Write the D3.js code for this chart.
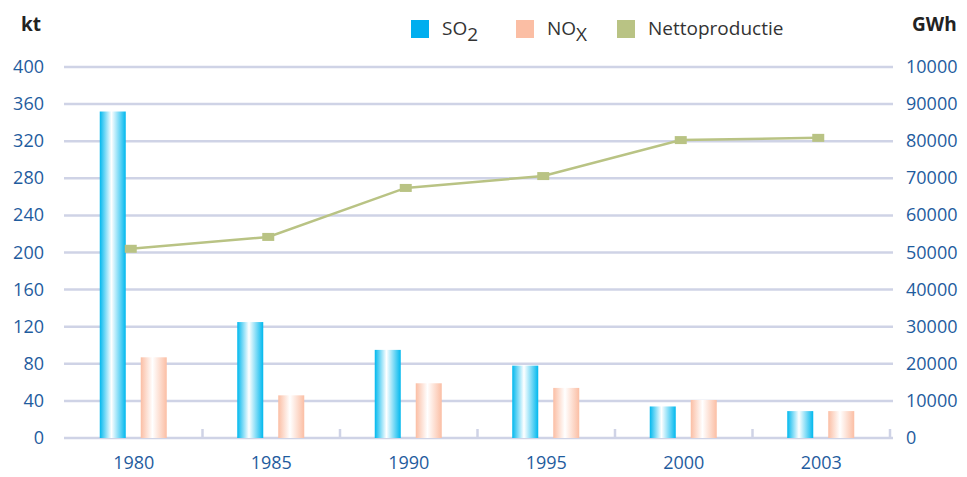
<!DOCTYPE html>
<html>
<head>
<meta charset="utf-8">
<script src="https://cdn.jsdelivr.net/npm/d3@7"></script>
<style>
  body { margin: 0; background: #fff; }
  text { font-family: "Open Sans", "Noto Sans", sans-serif; }
</style>
</head>
<body>
<div id="chart"></div>
<script>
var years = ['1980', '1985', '1990', '1995', '2000', '2003'];
var so2 = [352, 125, 95, 78, 34, 29];
var nox = [87, 46, 59, 54, 41, 29];
var netto = [51000, 54200, 67400, 70600, 80300, 80900];
var leftTicks = [0, 40, 80, 120, 160, 200, 240, 280, 320, 360, 400];
var rightTicks = [0, 10000, 20000, 30000, 40000, 50000, 60000, 70000, 80000, 90000, 100000];

var width = 967,
	height = 477,
	plot = { left: 65, right: 890, top: 67, bottom: 438 };

var svg = d3.select('#chart')
	.append('svg')
	.attr('width', width)
	.attr('height', height);

var defs = svg.append('defs');
function grad(id, edge) {
	var g = defs.append('linearGradient').attr('id', id)
		.attr('x1', '0%').attr('x2', '100%').attr('y1', '0%').attr('y2', '0%');
	g.append('stop').attr('offset', '0%').attr('stop-color', edge);
	g.append('stop').attr('offset', '45%').attr('stop-color', '#ffffff');
	g.append('stop').attr('offset', '100%').attr('stop-color', edge);
}
grad('gSO2', '#00b8ee');
grad('gNOx', '#fbbea4');

var x = d3.scaleBand().domain(years).range([plot.left, plot.right]);
var yL = d3.scaleLinear().domain([0, 400]).range([plot.bottom, plot.top]);
var yR = d3.scaleLinear().domain([0, 100000]).range([plot.bottom, plot.top]);

// gridlines
svg.selectAll('line.grid')
	.data(leftTicks)
	.enter()
	.append('line')
	.attr('x1', plot.left - 1)
	.attr('x2', plot.right + 3)
	.attr('y1', function(d){ return yL(d); })
	.attr('y2', function(d){ return yL(d); })
	.attr('stroke', '#cfd3e6')
	.attr('stroke-width', 2.5);

// category tick marks
svg.selectAll('line.tick')
	.data(years.slice(1).concat(['end']))
	.enter()
	.append('line')
	.attr('x1', function(d, i){ return plot.left + x.bandwidth() * (i + 1); })
	.attr('x2', function(d, i){ return plot.left + x.bandwidth() * (i + 1); })
	.attr('y1', plot.bottom)
	.attr('y2', plot.bottom - 9)
	.attr('stroke', '#cfd3e6')
	.attr('stroke-width', 2.5);

// left labels
svg.selectAll('text.yl')
	.data(leftTicks)
	.enter()
	.append('text')
	.attr('x', 44)
	.attr('y', function(d){ return yL(d) + 6; })
	.attr('text-anchor', 'end')
	.attr('fill', '#1f5c9e')
	.style('font-size', '18px')
	.text(function(d){ return d; });

// right labels (top label kept as printed)
svg.selectAll('text.yr')
	.data(rightTicks)
	.enter()
	.append('text')
	.attr('x', 906)
	.attr('y', function(d){ return yR(d) + 6; })
	.attr('fill', '#1f5c9e')
	.style('font-size', '18px')
	.text(function(d){ return d === 100000 ? '10000' : d; });

// x labels
svg.selectAll('text.xl')
	.data(years)
	.enter()
	.append('text')
	.attr('x', function(d){ return x(d) + x.bandwidth() / 2; })
	.attr('y', 469)
	.attr('text-anchor', 'middle')
	.attr('fill', '#1f5c9e')
	.style('font-size', '18px')
	.text(function(d){ return d; });

var barW = 26;

svg.selectAll('rect.so2')
	.data(so2)
	.enter()
	.append('rect')
	.attr('x', function(d, i){ return x(years[i]) + x.bandwidth() / 2 - 34; })
	.attr('y', function(d){ return yL(d); })
	.attr('width', barW)
	.attr('height', function(d){ return plot.bottom - yL(d); })
	.attr('fill', 'url(#gSO2)');

svg.selectAll('rect.nox')
	.data(nox)
	.enter()
	.append('rect')
	.attr('x', function(d, i){ return x(years[i]) + x.bandwidth() / 2 + 7; })
	.attr('y', function(d){ return yL(d); })
	.attr('width', barW)
	.attr('height', function(d){ return plot.bottom - yL(d); })
	.attr('fill', 'url(#gNOx)');

// netto line
var line = d3.line()
	.x(function(d, i){ return x(years[i]) + x.bandwidth() / 2 - 3; })
	.y(function(d){ return yR(d); });

svg.append('path')
	.datum(netto)
	.attr('d', line)
	.attr('fill', 'none')
	.attr('stroke', '#b9c384')
	.attr('stroke-width', 2.5);

svg.selectAll('rect.pt')
	.data(netto)
	.enter()
	.append('rect')
	.attr('x', function(d, i){ return x(years[i]) + x.bandwidth() / 2 - 3 - 6; })
	.attr('y', function(d){ return yR(d) - 4; })
	.attr('width', 12)
	.attr('height', 8)
	.attr('fill', '#b9c384');

// axis titles
svg.append('text')
	.attr('x', 21).attr('y', 31)
	.attr('fill', '#222')
	.style('font-size', '19px')
	.style('font-weight', 'bold')
	.text('kt');

svg.append('text')
	.attr('x', 912).attr('y', 31)
	.attr('fill', '#222')
	.style('font-size', '19px')
	.style('font-weight', 'bold')
	.text('GWh');

// legend
var legend = [
	{ x: 411, color: '#00aeef', main: 'SO', sub: '2' },
	{ x: 516, color: '#fbbea4', main: 'NO', sub: 'X' },
	{ x: 617, color: '#b9c384', main: 'Nettoproductie', sub: '' }
];
legend.forEach(function(l){
	svg.append('rect')
		.attr('x', l.x).attr('y', 20)
		.attr('width', 18).attr('height', 18)
		.attr('fill', l.color);
	var t = svg.append('text')
		.attr('x', l.x + 31).attr('y', 35)
		.attr('fill', '#333')
		.style('font-size', '19px');
	t.append('tspan').text(l.main);
	if (l.sub) {
		t.append('tspan').attr('dy', 6).style('font-size', '19px').text(l.sub);
	}
});
</script>
</body>
</html>
